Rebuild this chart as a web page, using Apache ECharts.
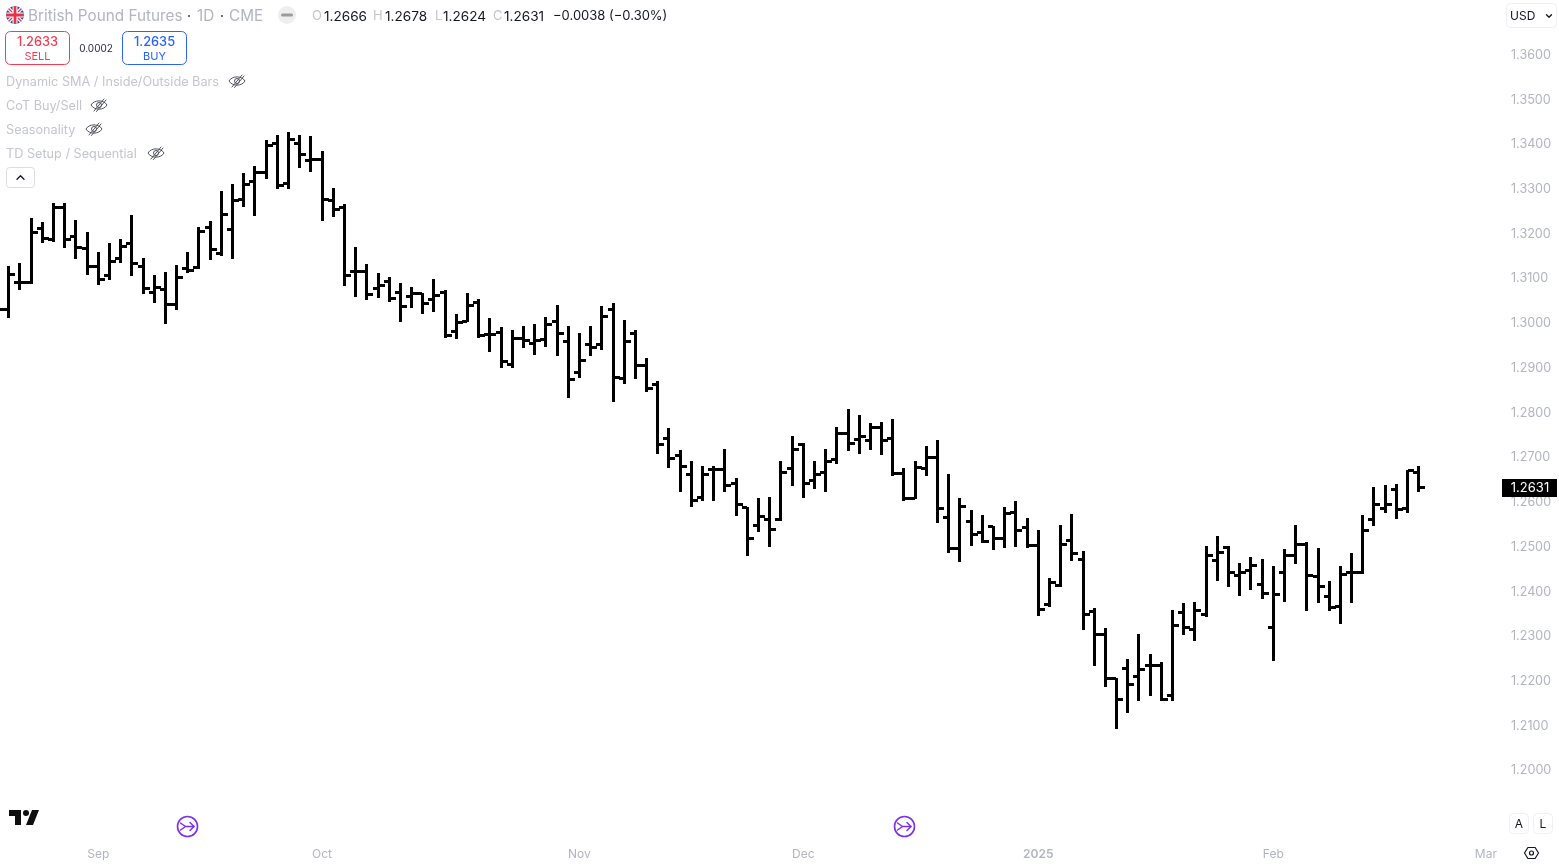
<!DOCTYPE html>
<html>
<head>
<meta charset="utf-8">
<style>html,body{margin:0;padding:0;background:#fff}#c{width:1559px;height:865px}</style>
<script src="https://cdn.jsdelivr.net/npm/echarts@6/dist/echarts.min.js"></script>
</head>
<body>
<div id="c"></div>
<script>
const monthLabels = ['Sep','Oct','Nov','Dec','2025','Feb','Mar'];
const monthBars = [8,28,51,71,92,113,132];
const firstBar = -1;
const opens = [1.3050,
1.3031,1.3090,1.3090,1.3212,1.3186,1.3259,1.3193,1.3166,1.3125,1.3107,
1.3145,1.3177,1.3126,1.3069,1.3074,1.3041,1.3122,1.3123,1.3214,1.3154,
1.3209,1.3275,1.3315,1.3336,1.3402,1.3312,1.3402,1.3363,1.3365,1.3274,
1.3257,1.3115,1.3115,1.3076,1.3093,1.3067,1.3059,1.3065,1.3052,1.3067,
1.2981,1.3002,1.3045,1.2973,1.2978,1.2908,1.2966,1.2953,1.2963,1.3004,
1.2958,1.2888,1.2951,1.2951,1.3031,1.2876,1.2976,1.2904,1.2862,1.2741,
1.2703,1.2660,1.2610,1.2673,1.2673,1.2640,1.2587,1.2546,1.2560,1.2560,
1.2674,1.2729,1.2648,1.2666,1.2695,1.2752,1.2739,1.2737,1.2765,1.2741,
1.2663,1.2608,1.2674,1.2700,1.2566,1.2495,1.2557,1.2531,1.2545,1.2519,
1.2575,1.2542,1.2502,1.2370,1.2412,1.2513,1.2470,1.2354,1.2303,1.2204,
1.2227,1.2209,1.2233,1.2233,1.2166,1.2352,1.2314,1.2347,1.2468,1.2497,
1.2435,1.2446,1.2414,1.2318,1.2443,1.2479,1.2504,1.2432,1.2388,1.2365,
1.2443,1.2441,1.2560,1.2586,1.2627,1.2584,1.2666];
const highs = [1.3065,
1.3125,1.3132,1.3233,1.3225,1.3268,1.3266,1.3229,1.3201,1.3157,1.3177,
1.3186,1.3240,1.3143,1.3107,1.3113,1.3128,1.3157,1.3214,1.3227,1.3294,
1.3309,1.3333,1.3350,1.3408,1.3420,1.3425,1.3420,1.3417,1.3383,1.3300,
1.3264,1.3168,1.3130,1.3110,1.3101,1.3087,1.3078,1.3065,1.3096,1.3072,
1.3019,1.3065,1.3052,1.3009,1.2989,1.2983,1.2993,1.2996,1.3011,1.3038,
1.2993,1.2976,1.2993,1.3036,1.3043,1.3005,1.2984,1.2920,1.2868,1.2763,
1.2714,1.2691,1.2680,1.2680,1.2718,1.2653,1.2587,1.2607,1.2609,1.2689,
1.2745,1.2730,1.2691,1.2716,1.2765,1.2806,1.2794,1.2774,1.2777,1.2783,
1.2674,1.2691,1.2723,1.2736,1.2660,1.2607,1.2580,1.2569,1.2545,1.2587,
1.2600,1.2562,1.2535,1.2428,1.2546,1.2571,1.2488,1.2361,1.2316,1.2204,
1.2247,1.2303,1.2258,1.2240,1.2358,1.2372,1.2374,1.2499,1.2522,1.2499,
1.2461,1.2475,1.2470,1.2455,1.2493,1.2548,1.2510,1.2495,1.2421,1.2455,
1.2484,1.2569,1.2631,1.2636,1.2638,1.2671,1.2678];
const lows = [1.3010,
1.3011,1.3075,1.3087,1.3180,1.3183,1.3168,1.3145,1.3108,1.3085,1.3098,
1.3136,1.3107,1.3065,1.3046,1.2998,1.3029,1.3112,1.3122,1.3141,1.3151,
1.3145,1.3260,1.3239,1.3322,1.3301,1.3301,1.3348,1.3339,1.3229,1.3238,
1.3084,1.3060,1.3052,1.3056,1.3048,1.3002,1.3034,1.3022,1.3026,1.2968,
1.2966,1.3002,1.2968,1.2935,1.2900,1.2901,1.2946,1.2929,1.2948,1.2928,
1.2834,1.2877,1.2926,1.2940,1.2825,1.2865,1.2875,1.2847,1.2709,1.2677,
1.2622,1.2589,1.2603,1.2604,1.2622,1.2569,1.2479,1.2533,1.2499,1.2558,
1.2637,1.2609,1.2629,1.2622,1.2685,1.2714,1.2709,1.2716,1.2705,1.2658,
1.2602,1.2607,1.2658,1.2553,1.2486,1.2466,1.2502,1.2508,1.2493,1.2497,
1.2499,1.2497,1.2345,1.2367,1.2411,1.2468,1.2314,1.2233,1.2186,1.2093,
1.2130,1.2155,1.2168,1.2155,1.2155,1.2303,1.2289,1.2343,1.2423,1.2410,
1.2390,1.2405,1.2383,1.2245,1.2376,1.2461,1.2356,1.2374,1.2358,1.2329,
1.2374,1.2439,1.2546,1.2575,1.2562,1.2575,1.2624];
const closes = [1.3031,
1.3108,1.3090,1.3202,1.3189,1.3259,1.3187,1.3169,1.3125,1.3098,1.3138,
1.3171,1.3132,1.3076,1.3078,1.3041,1.3101,1.3116,1.3205,1.3163,1.3242,
1.3274,1.3309,1.3336,1.3396,1.3307,1.3411,1.3376,1.3365,1.3276,1.3253,
1.3105,1.3115,1.3063,1.3084,1.3054,1.3037,1.3065,1.3044,1.3061,1.2972,
1.3000,1.3038,1.2971,1.2973,1.2913,1.2966,1.2961,1.2961,1.2996,1.2976,
1.2873,1.2917,1.2944,1.3014,1.2879,1.2958,1.2904,1.2853,1.2727,1.2696,
1.2680,1.2604,1.2660,1.2673,1.2636,1.2593,1.2517,1.2567,1.2537,1.2665,
1.2716,1.2642,1.2660,1.2691,1.2752,1.2730,1.2745,1.2765,1.2736,1.2663,
1.2608,1.2676,1.2700,1.2584,1.2495,1.2589,1.2526,1.2511,1.2517,1.2573,
1.2535,1.2502,1.2360,1.2419,1.2504,1.2484,1.2349,1.2303,1.2204,1.2159,
1.2191,1.2224,1.2233,1.2159,1.2323,1.2320,1.2356,1.2479,1.2486,1.2441,
1.2441,1.2457,1.2396,1.2392,1.2479,1.2504,1.2435,1.2410,1.2363,1.2437,
1.2443,1.2535,1.2593,1.2595,1.2582,1.2669,1.2631];
const indicatorNames = ['Dynamic SMA / Inside/Outside Bars','CoT Buy/Sell','Seasonality','TD Setup / Sequential'];

const FONT = 'Inter, "Noto Sans", sans-serif';
const GREY = '#b2b5be', INK = '#131722';
const chart = echarts.init(document.getElementById('c'));

const bars = opens.map((o, i) => [firstBar + i, o, highs[i], lows[i], closes[i]]);
const last = bars[bars.length - 1];

function renderBar(params, api) {
  const i = api.value(0);
  const cx = api.coord([i, api.value(1)])[0];
  const ox = Math.round(cx - 1.5);
  const py = v => Math.round(api.coord([i, v])[1]);
  const hy = py(api.value(2)), ly = py(api.value(3));
  const oy = py(api.value(1)), cy = py(api.value(4));
  const st = { fill: '#000' };
  return { type: 'group', children: [
    { type: 'rect', shape: { x: ox, y: hy, width: 3, height: Math.max(ly - hy + 1, 3) }, style: st },
    { type: 'rect', shape: { x: ox - 4, y: oy - 1, width: 5, height: 3 }, style: st },
    { type: 'rect', shape: { x: ox + 2, y: cy - 1, width: 6, height: 3 }, style: st }
  ]};
}
function renderTag(params, api) {
  const y = api.coord([api.value(0), api.value(1)])[1];
  const g = params.coordSys;
  const left = g.x + g.width + 2;
  return { type: 'group', children: [
    { type: 'rect', shape: { x: left, y: Math.round(y) - 8, width: 55, height: 18 }, style: { fill: '#000' } },
    { type: 'text', style: { x: left + 28, y: Math.round(y) + 1.5, text: api.value(1).toFixed(4), fill: '#fff',
      font: '13px ' + FONT, align: 'center', verticalAlign: 'middle' } }
  ]};
}

function txt(x, y, text, size, color, opt) {
  opt = opt || {};
  return { type: 'text', x, y, silent: true, style: { text, fill: color,
    font: (opt.weight ? opt.weight + ' ' : '') + size + 'px ' + FONT,
    align: opt.align || 'left', verticalAlign: 'middle' } };
}
function poly(x, y, points, stroke, lw) {
  return { type: 'polyline', x, y, silent: true, shape: { points },
    style: { stroke, lineWidth: lw || 1, fill: null, lineCap: 'round', lineJoin: 'round' } };
}
function gon(x, y, points, fill, stroke, lw) {
  return { type: 'polygon', x, y, silent: true, shape: { points },
    style: { fill: fill || 'none', stroke: stroke || null, lineWidth: lw || 1, lineJoin: 'round' } };
}
function circ(cx, cy, r, fill, stroke, lw) {
  return { type: 'circle', silent: true, shape: { cx, cy, r },
    style: { fill: fill || 'none', stroke: stroke || null, lineWidth: lw || 1 } };
}
function box(x, y, w, h, r, stroke, lw, fill) {
  return { type: 'rect', silent: true, shape: { x: x + .5, y: y + .5, width: w - 1, height: h - 1, r },
    style: { stroke, lineWidth: lw || 1, fill: fill || '#fff' } };
}
function curve(x, y, x1, y1, c1x, c1y, c2x, c2y, x2, y2, stroke, lw) {
  return { type: 'bezierCurve', x, y, silent: true,
    shape: { x1, y1, cpx1: c1x, cpy1: c1y, cpx2: c2x, cpy2: c2y, x2, y2 },
    style: { stroke, lineWidth: lw, fill: null } };
}
const flagSvg = '<svg xmlns="http://www.w3.org/2000/svg" width="18" height="18" viewBox="0 0 18 18"><defs><clipPath id="a"><circle cx="9" cy="9" r="9"/></clipPath></defs><g clip-path="url(#a)"><rect width="18" height="18" fill="#1f4aa0"/><path d="M0 0L18 18M18 0L0 18" stroke="#fff" stroke-width="3.6"/><path d="M0 0L18 18M18 0L0 18" stroke="#e0354b" stroke-width="1.3"/><path d="M9 0V18M0 9H18" stroke="#fff" stroke-width="5"/><path d="M9 0V18M0 9H18" stroke="#e0354b" stroke-width="2.8"/></g></svg>';
const EYE = '#50535e';
const eye = (x, y) => [
  curve(x, y, -8, 0, -5, -5.5, 5, -5.5, 8, 0, EYE, 1),
  curve(x, y, -8, 0, -5, 5.5, 5, 5.5, 8, 0, EYE, 1),
  circ(x, y, 2.5, null, EYE, 1),
  poly(x, y, [[-5, 6], [5, -6]], EYE, 1),
  poly(x, y, [[-2.5, 6.5], [7, -5]], EYE, 1)
];
const eyeX = [237, 99, 94, 156];
const PUR = '#7a2ff2';
const signal = x => [
  circ(x, 826.5, 10, null, PUR, 1.6),
  poly(x, 826.5, [[-7, -3.5], [-2, 0], [-7, 3.5]], PUR, 1.5),
  poly(x, 826.5, [[-2, 0], [6.5, 0]], PUR, 1.5),
  poly(x, 826.5, [[2.5, -4], [6.5, 0], [2.5, 4]], PUR, 1.5)
];
const ui = [
  { type: 'image', x: 6, y: 6, silent: true, style: { image: 'data:image/svg+xml;charset=utf-8,' + encodeURIComponent(flagSvg), width: 18, height: 18 } },
  txt(28, 16.5, 'British Pound Futures', 15.3, GREY),
  txt(189, 16.5, '·', 15.3, '#50535e', { align: 'center' }),
  txt(197, 16.5, '1D', 15.3, GREY),
  txt(222, 16.5, '·', 15.3, '#50535e', { align: 'center' }),
  txt(229, 16.5, 'CME', 15.3, GREY),
  circ(287, 15, 9, '#eeeeee'),
  poly(287, 15, [[-4.5, 0], [4.5, 0]], '#9a9a9f', 3),
  txt(312, 16.5, 'O', 13, '#c4c6cd'), txt(324, 16.5, '1.2666', 13.6, INK),
  txt(373, 16.5, 'H', 13, '#c4c6cd'), txt(385, 16.5, '1.2678', 13.6, INK),
  txt(435, 16.5, 'L', 13, '#c4c6cd'), txt(443, 16.5, '1.2624', 13.6, INK),
  txt(493, 16.5, 'C', 13, '#c4c6cd'), txt(504, 16.5, '1.2631', 13.6, INK),
  txt(553, 16.5, '−0.0038 (−0.30%)', 13, INK),
  box(5, 31, 65, 34, 5, '#f23d54', 1),
  txt(37.5, 42.5, '1.2633', 12.8, '#f23d54', { align: 'center', weight: 500 }),
  txt(37.5, 56.5, 'SELL', 11, '#f23d54', { align: 'center' }),
  txt(96, 48.5, '0.0002', 10, '#2a2e39', { align: 'center' }),
  box(122, 31, 65, 34, 5, '#2962ff', 1),
  txt(154.5, 42.5, '1.2635', 12.8, '#2962ff', { align: 'center', weight: 500 }),
  txt(154.5, 56.5, 'BUY', 11, '#2962ff', { align: 'center' }),
  box(6, 167, 29, 21, 3, '#dcdde2', 1),
  poly(20.5, 177.5, [[-3.5, 1.8], [0, -1.8], [3.5, 1.8]], INK, 1.3),
  gon(7, 804, [[2, 6], [14, 6], [14, 21], [8, 21], [8, 12], [2, 12]], '#0f0f0f'),
  gon(7, 804, [[25, 6], [32, 6], [26, 21], [19, 21]], '#0f0f0f'),
  circ(26, 813, 3, '#0f0f0f'),
  box(1506, 3, 51, 25, 4, '#eff0f3', 1),
  txt(1510, 16, 'USD', 12, INK),
  poly(1549, 16, [[-2.5, -1.2], [0, 1.3], [2.5, -1.2]], INK, 1.3),
  box(1509, 813, 20, 21, 4, '#eff0f3', 1),
  txt(1519, 824.5, 'A', 12, INK, { align: 'center' }),
  box(1533, 813, 20, 21, 4, '#eff0f3', 1),
  txt(1543, 824.5, 'L', 12, INK, { align: 'center' }),
  gon(1531.5, 853, [[-7, 0], [-3.6, -5.5], [3.6, -5.5], [7, 0], [3.6, 5.5], [-3.6, 5.5]], null, INK, 1.2),
  circ(1531.5, 853, 2, null, INK, 1.2)
].concat(
  indicatorNames.map((n, i) => txt(6, 82.5 + 24 * i, n, 12.7, '#c4c6cd')),
  indicatorNames.flatMap((n, i) => eye(eyeX[i], 81 + 24 * i)),
  signal(187.5), signal(904.5)
);

chart.setOption({
  animation: false,
  backgroundColor: '#fff',
  textStyle: { fontFamily: FONT },
  grid: { left: 0, right: 59, top: 54, height: 715.68, containLabel: false },
  xAxis: {
    type: 'value', min: -0.78, max: 133.26,
    axisLine: { show: false }, axisTick: { show: false }, splitLine: { show: false },
    axisLabel: {
      customValues: monthBars,
      margin: 79, color: GREY, fontSize: 12, fontFamily: FONT,
      formatter: v => {
        const t = monthLabels[monthBars.indexOf(v)];
        return t === '2025' ? '{b|' + t + '}' : t;
      },
      rich: { b: { fontWeight: 600, color: GREY, fontSize: 12, fontFamily: FONT } }
    }
  },
  yAxis: {
    type: 'value', position: 'right', min: 1.20, max: 1.36, interval: 0.01,
    axisLine: { show: false }, axisTick: { show: false }, splitLine: { show: false },
    axisLabel: { inside: false, margin: 11, color: GREY, fontSize: 12.6, fontFamily: FONT,
      formatter: v => '{p|' + v.toFixed(4) + '}',
      rich: { p: { padding: [2, 0, 0, 0], color: GREY, fontSize: 12.6, fontFamily: FONT } } }
  },
  series: [
    { type: 'custom', name: 'British Pound Futures', renderItem: renderBar, data: bars,
      encode: { x: 0, y: [1, 2, 3, 4] }, clip: true, silent: true },
    { type: 'custom', name: 'Last price', renderItem: renderTag, data: [[last[0], last[4]]],
      encode: { x: 0, y: 1 }, clip: false, silent: true, z: 10 }
  ],
  graphic: { elements: ui }
});
</script>
</body>
</html>
